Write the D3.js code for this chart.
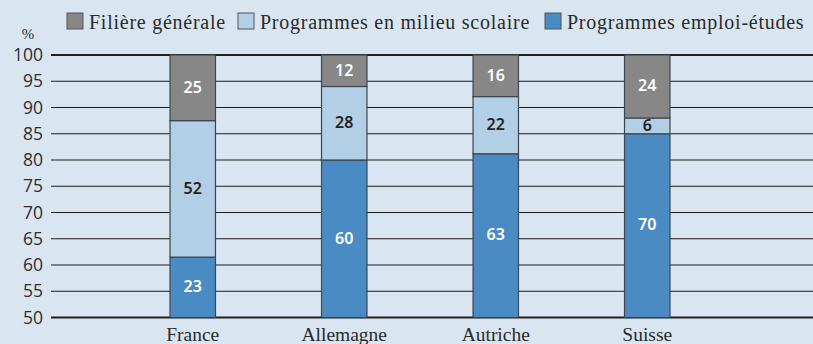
<!DOCTYPE html>
<html>
<head>
<meta charset="utf-8">
<script src="https://cdn.jsdelivr.net/npm/d3@7"></script>
<style>
  html, body { margin: 0; padding: 0; background: #d9e6f1; }
  svg { display: block; }
</style>
</head>
<body>
<svg id="chart" width="813" height="344"></svg>
<script>
// Répartition des élèves du deuxième cycle du secondaire (%)
const categories = ["France", "Allemagne", "Autriche", "Suisse"];
const emploiEtudes = [23, 60, 63, 70];
const milieuScolaire = [52, 28, 22, 6];
const filiereGenerale = [25, 12, 16, 24];
const yTickLabels = [50, 55, 60, 65, 70, 75, 80, 85, 90, 95, 100];

const seriesNames = ["Programmes emploi-études", "Programmes en milieu scolaire", "Filière générale"];
const seriesKeys = ["emploi", "scolaire", "generale"];
const colors = { emploi: "#4a8bc3", scolaire: "#b3cfe5", generale: "#878787" };
const labelColors = { emploi: "#ffffff", scolaire: "#222222", generale: "#ffffff" };

const rows = categories.map((c, i) => ({
  pays: c,
  emploi: emploiEtudes[i],
  scolaire: milieuScolaire[i],
  generale: filiereGenerale[i]
}));

const svg = d3.select("#chart");
const W = 813, H = 344;
const plotLeft = 51, plotRight = 813, plotTop = 55, plotBottom = 317.5;

svg.append("rect").attr("width", W).attr("height", H).attr("fill", "#d9e6f1");

// Axis scale for the printed ticks and the share scale for the stacked bars
const yAxis = d3.scaleLinear().domain([50, 100]).range([plotBottom, plotTop]);
const yShare = d3.scaleLinear().domain([0, 1]).range([plotBottom, plotTop]);
const x = d3.scaleBand().domain(categories).range([117, 723]).paddingInner(0.7).paddingOuter(0.35);

// Gridlines
svg.append("g")
  .selectAll("line")
  .data(yTickLabels)
  .join("line")
  .attr("x1", plotLeft).attr("x2", plotRight)
  .attr("y1", d => yAxis(d)).attr("y2", d => yAxis(d))
  .attr("stroke", "#1e1e1e")
  .attr("stroke-width", d => (d === 50 || d === 100) ? 2.2 : 1.2);

// Y axis labels
const yG = svg.append("g")
  .attr("transform", `translate(${plotLeft},0)`)
  .call(d3.axisLeft(yAxis).tickValues(yTickLabels).tickSize(0).tickPadding(8));
yG.select(".domain").remove();
yG.selectAll("text")
  .attr("font-family", "'Open Sans', 'Noto Sans', sans-serif")
  .attr("font-size", 17.5)
  .attr("fill", "#2e2e2e");

svg.append("text")
  .attr("x", 28).attr("y", 39)
  .attr("text-anchor", "middle")
  .attr("font-family", "'Liberation Serif', serif")
  .attr("font-size", 15)
  .attr("fill", "#2e2e2e")
  .text("%");

// Stacked bars
const stack = d3.stack().keys(seriesKeys).offset(d3.stackOffsetExpand);
const layers = stack(rows);

const gLayers = svg.append("g")
  .selectAll("g")
  .data(layers)
  .join("g")
  .attr("fill", d => colors[d.key]);

gLayers.selectAll("rect")
  .data(d => d.map(p => Object.assign(p, { key: d.key })))
  .join("rect")
  .attr("x", d => x(d.data.pays))
  .attr("width", x.bandwidth())
  .attr("y", d => yShare(d[1]))
  .attr("height", d => yShare(d[0]) - yShare(d[1]))
  .attr("stroke", "#3c4650")
  .attr("stroke-width", 1.2);

// Value labels
gLayers.selectAll("text")
  .data(d => d)
  .join("text")
  .attr("x", d => x(d.data.pays) + x.bandwidth() / 2)
  .attr("y", d => (yShare(d[0]) + yShare(d[1])) / 2)
  .attr("dy", "0.3em")
  .attr("text-anchor", "middle")
  .attr("font-family", "'Noto Sans', sans-serif")
  .attr("font-weight", 600)
  .attr("font-size", 16)
  .attr("fill", d => labelColors[d.key])
  .text(d => d.data[d.key]);

// Category labels
svg.append("g")
  .selectAll("text")
  .data(categories)
  .join("text")
  .attr("x", d => x(d) + x.bandwidth() / 2)
  .attr("y", 341)
  .attr("text-anchor", "middle")
  .attr("font-family", "'Liberation Serif', serif")
  .attr("font-size", 19.5)
  .attr("fill", "#2a2a2a")
  .text(d => d);

// Legend
const legendItems = [
  { key: "generale", name: seriesNames[2], x: 67 },
  { key: "scolaire", name: seriesNames[1], x: 238 },
  { key: "emploi", name: seriesNames[0], x: 545 }
];
const lg = svg.append("g")
  .selectAll("g")
  .data(legendItems)
  .join("g")
  .attr("transform", d => `translate(${d.x},13)`);
lg.append("rect")
  .attr("width", 16).attr("height", 16)
  .attr("fill", d => colors[d.key])
  .attr("stroke", "#555").attr("stroke-width", 1);
lg.append("text")
  .attr("x", 22).attr("y", 16)
  .attr("font-family", "'Liberation Serif', serif")
  .attr("font-size", 20)
  .attr("letter-spacing", 0.75)
  .attr("fill", "#2a2a2a")
  .text(d => d.name);
</script>
</body>
</html>
